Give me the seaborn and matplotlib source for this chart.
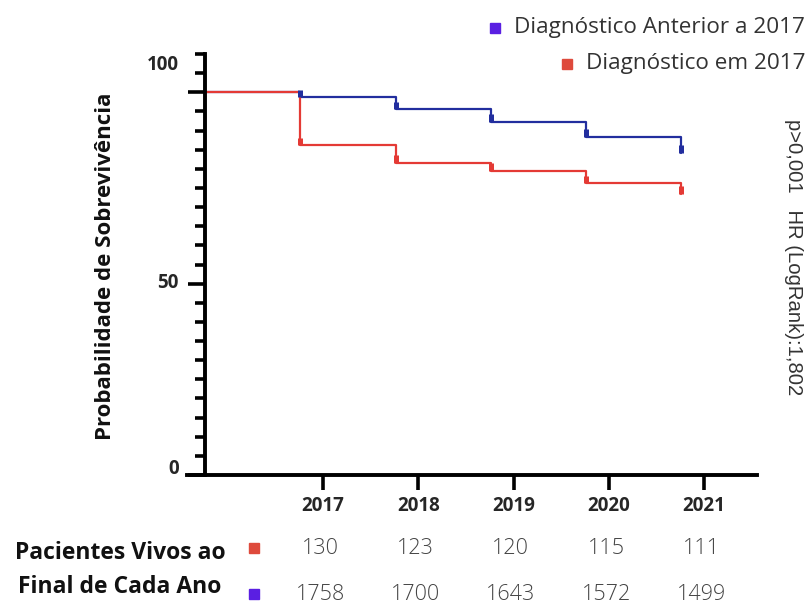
import matplotlib
matplotlib.use("Agg")
import matplotlib.pyplot as plt
import numpy as np
import pandas as pd
import seaborn as sns
from matplotlib.patches import Rectangle
from matplotlib.transforms import ScaledTranslation, blended_transform_factory

# --- dados ---------------------------------------------------------------
grupos = ["Diagnóstico Anterior a 2017", "Diagnóstico em 2017"]
anos = ["2017", "2018", "2019", "2020", "2021"]
tempo = [0, 1, 2, 3, 4, 5]                       # anos de seguimento
sobrev_anterior = [100, 98.7, 95.5, 92.3, 88.3, 84.2]
sobrev_2017 = [100, 86.1, 81.5, 79.5, 76.2, 73.5]
vivos_2017 = [130, 123, 120, 115, 111]
vivos_anterior = [1758, 1700, 1643, 1572, 1499]
texto_teste = "p>0,001   HR (LogRank):1,802"

cores_linha = {grupos[0]: "#222e9e", grupos[1]: "#e43a35"}
cores_marca = {grupos[0]: "#5a1fe2", grupos[1]: "#de4a3c"}

df = pd.DataFrame({
    "tempo": tempo * 2,
    "sobrevida": sobrev_anterior + sobrev_2017,
    "grupo": [grupos[0]] * len(tempo) + [grupos[1]] * len(tempo),
})

sns.set_theme(style="white")
plt.rcParams["font.family"] = ["Open Sans", "DejaVu Sans"]

W, H = 811, 606
fig = plt.figure(figsize=(W / 100, H / 100), dpi=100)
ax = fig.add_axes([187 / W, (H - 475) / H, (757 - 187) / W, 421 / H])

sns.lineplot(data=df, x="tempo", y="sobrevida", hue="grupo",
             palette=cores_linha, estimator=None, sort=False,
             drawstyle="steps-post", linewidth=1.6, legend=False, ax=ax)

# marcas espessas em cada degrau
for g, vals in zip(grupos, [sobrev_anterior, sobrev_2017]):
    t = np.array(tempo[1:])
    v = np.array(vals[1:])
    ax.vlines(t, v, v + 2.0, color=cores_linha[g], linewidth=3.6)

ax.set_xlim(-0.19, 5.795)
ax.set_ylim(0, 110)

# eixos ao estilo Prism
for s in ["top", "right"]:
    ax.spines[s].set_visible(False)
ax.spines["left"].set_position(("data", 0))
for s in ["left", "bottom"]:
    ax.spines[s].set_linewidth(2.8)
    ax.spines[s].set_color("black")

pos_anos = [t + 0.24 for t in tempo[1:]]
ax.set_xticks(pos_anos)
ax.set_xticklabels(anos, fontsize=13.5, fontweight="bold")
ax.tick_params(axis="x", direction="out", length=11, width=2.6,
               color="black", pad=4, bottom=True)

ax.set_yticks([0, 50, 100])
ax.set_yticklabels(["0", "50", "100"], fontsize=13.5, fontweight="bold")
ax.yaxis.set_minor_locator(matplotlib.ticker.MultipleLocator(5))
ax.tick_params(axis="y", which="major", direction="out", length=12,
               width=2.6, color="black", pad=7, left=True)
ax.tick_params(axis="y", which="minor", direction="out", length=7,
               width=2.6, color="black", left=True)
for lab, dy in zip(ax.get_yticklabels(), [0.09, 0.03, 0.30]):
    lab.set_transform(lab.get_transform() + ScaledTranslation(0, dy, fig.dpi_scale_trans))
ax.set_xlabel("")
ax.set_ylabel("")
ax.grid(False)

# título do eixo y
fig.text(106 / W, 1 - 266 / H, "Probabilidade de Sobrevivência",
         rotation=90, ha="center", va="center", fontsize=16,
         fontweight="bold", color="#111111")

# legenda
renderer = fig.canvas.get_renderer()
leg_y = [28, 64]
for g, y0 in zip(grupos, leg_y):
    t = fig.text(805 / W, 1 - y0 / H, g, ha="right", va="center",
                 fontsize=16.2, color="#333333")
    bb = t.get_window_extent(renderer)
    x0 = bb.x0 - 14 - 10
    fig.patches.append(Rectangle((x0 / W, 1 - (y0 + 5) / H), 10 / W, 10 / H,
                                 transform=fig.transFigure,
                                 color=cores_marca[g], zorder=5))

# estatística
fig.text(794 / W, 1 - 257 / H, texto_teste, rotation=270,
         ha="center", va="center", fontsize=14.6, color="#333333",
         family=["Liberation Sans", "DejaVu Sans"])

# tabela de pacientes vivos
fig.text(120 / W, 1 - 553 / H, "Pacientes Vivos ao", ha="center",
         va="center", fontsize=16.5, fontweight="bold", color="#111111")
fig.text(120 / W, 1 - 587 / H, "Final de Cada Ano", ha="center",
         va="center", fontsize=16.5, fontweight="bold", color="#111111")

tr = blended_transform_factory(ax.transData, fig.transFigure)
for vals, g, yrow in [(vivos_2017, grupos[1], 548), (vivos_anterior, grupos[0], 594)]:
    fig.patches.append(Rectangle((249 / W, 1 - (yrow + 5) / H), 10 / W, 10 / H,
                                 transform=fig.transFigure,
                                 color=cores_marca[g], zorder=5))
    for x, v in zip(pos_anos, vals):
        ax.text(x - 0.03, 1 - yrow / H, str(v), transform=tr, ha="center",
                va="center", fontsize=15.5, fontweight="light", color="#444444",
                clip_on=False)

fig.savefig("out.png", dpi=100)
